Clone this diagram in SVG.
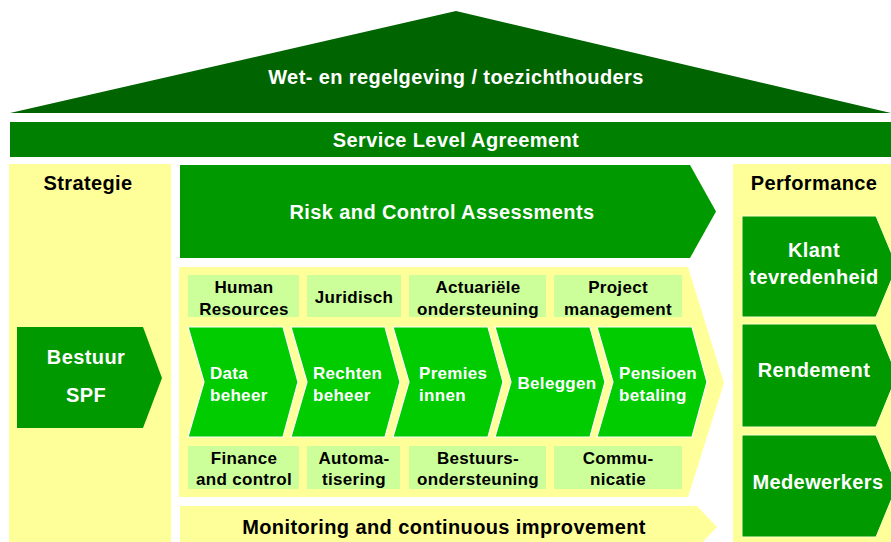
<svg xmlns="http://www.w3.org/2000/svg" width="891" height="542" viewBox="0 0 891 542">
<style>
text{font-family:"Liberation Sans",Arial,sans-serif;font-weight:bold;text-anchor:middle}
.big{font-size:20px;letter-spacing:0.4px}
.sm{font-size:17px;letter-spacing:0.3px}
.w{fill:#ffffff}
.k{fill:#000000}
.yel{fill:#ffff99}
.mid{fill:#009900}
.chev{fill:#00cc00;stroke:#ffffff;stroke-width:1.2}
.box{fill:#ccff99}
.perf{fill:#009900;stroke:#ffffcc;stroke-width:1}
.l{text-anchor:start}
</style>
<rect width="891" height="542" fill="#ffffff"/>
<g id="roof">
<polygon points="10,113 456,11 891,113" fill="#006400"/>
<text class="big w" x="456" y="84">Wet- en regelgeving / toezichthouders</text>
</g>
<g id="sla">
<rect x="10" y="122" width="881" height="35" fill="#008000"/>
<text class="big w" x="456" y="147">Service Level Agreement</text>
</g>
<g id="strategie">
<rect class="yel" x="9" y="164" width="162" height="378"/>
<text class="big k" x="88" y="190">Strategie</text>
</g>
<g id="bestuur">
<polygon class="mid" points="17,327 143,327 162,378 143,428 17,428"/>
<text class="big w" x="86" y="364">Bestuur</text>
<text class="big w" x="86" y="402">SPF</text>
</g>
<g id="risk">
<polygon class="mid" points="180,165 690,165 716,211.5 690,258 180,258"/>
<text class="big w" x="442" y="219">Risk and Control Assessments</text>
</g>
<g id="panel">
<polygon class="yel" points="179,267 688,267 724,383 688,497 179,497"/>
</g>
<g id="hr">
<rect class="box" x="188" y="275" width="111" height="42"/>
<text class="sm k" x="244" y="293">Human</text>
<text class="sm k" x="244" y="315">Resources</text>
</g>
<g id="juridisch">
<rect class="box" x="307" y="275" width="94" height="42"/>
<text class="sm k" x="354" y="303">Juridisch</text>
</g>
<g id="actuariele">
<rect class="box" x="409" y="275" width="137" height="42"/>
<text class="sm k" x="478" y="293">Actuariële</text>
<text class="sm k" x="478" y="315">ondersteuning</text>
</g>
<g id="project">
<rect class="box" x="554" y="275" width="128" height="42"/>
<text class="sm k" x="618" y="293">Project</text>
<text class="sm k" x="618" y="315">management</text>
</g>
<g id="data">
<polygon class="chev" points="188,327 283,327 298,382 283,437 188,437 204,382"/>
<text class="sm w l" x="210" y="379">Data</text>
<text class="sm w l" x="210" y="401">beheer</text>
</g>
<g id="rechten">
<polygon class="chev" points="291,327 385,327 400,382 385,437 291,437 307,382"/>
<text class="sm w l" x="313" y="379">Rechten</text>
<text class="sm w l" x="313" y="401">beheer</text>
</g>
<g id="premies">
<polygon class="chev" points="393,327 488,327 503,382 488,437 393,437 409,382"/>
<text class="sm w l" x="419" y="379">Premies</text>
<text class="sm w l" x="419" y="401">innen</text>
</g>
<g id="beleggen">
<polygon class="chev" points="495,327 590,327 605,382 590,437 495,437 511,382"/>
<text class="sm w" x="557" y="389">Beleggen</text>
</g>
<g id="pensioen">
<polygon class="chev" points="597,327 692,327 707,382 692,437 597,437 613,382"/>
<text class="sm w l" x="619" y="379">Pensioen</text>
<text class="sm w l" x="619" y="401">betaling</text>
</g>
<g id="finance">
<rect class="box" x="188" y="446" width="111" height="43"/>
<text class="sm k" x="244" y="464">Finance</text>
<text class="sm k" x="244" y="485">and control</text>
</g>
<g id="automatisering">
<rect class="box" x="307" y="446" width="93" height="43"/>
<text class="sm k" x="354" y="464">Automa-</text>
<text class="sm k" x="354" y="485">tisering</text>
</g>
<g id="bestuursondersteuning">
<rect class="box" x="409" y="446" width="137" height="43"/>
<text class="sm k" x="478" y="464">Bestuurs-</text>
<text class="sm k" x="478" y="485">ondersteuning</text>
</g>
<g id="communicatie">
<rect class="box" x="554" y="446" width="128" height="43"/>
<text class="sm k" x="618" y="464">Commu-</text>
<text class="sm k" x="618" y="485">nicatie</text>
</g>
<g id="monitoring">
<polygon class="yel" points="180,506 697,506 717,527 697,548 180,548"/>
<text class="big k" x="444" y="534">Monitoring and continuous improvement</text>
</g>
<g id="performance">
<rect class="yel" x="733" y="164" width="158" height="378"/>
<text class="big k" x="814" y="190">Performance</text>
</g>
<g id="klant">
<polygon class="perf" points="742,216 876,216 897,266.5 876,317 742,317"/>
<text class="big w" x="814" y="257">Klant</text>
<text class="big w" x="814" y="284">tevredenheid</text>
</g>
<g id="rendement">
<polygon class="perf" points="742,324 876,324 897,375.5 876,427 742,427"/>
<text class="big w" x="814" y="377">Rendement</text>
</g>
<g id="medewerkers">
<polygon class="perf" points="742,435 876,435 897,486 876,537 742,537"/>
<text class="big w" x="818" y="489">Medewerkers</text>
</g>
<g id="connectors"></g>
</svg>
